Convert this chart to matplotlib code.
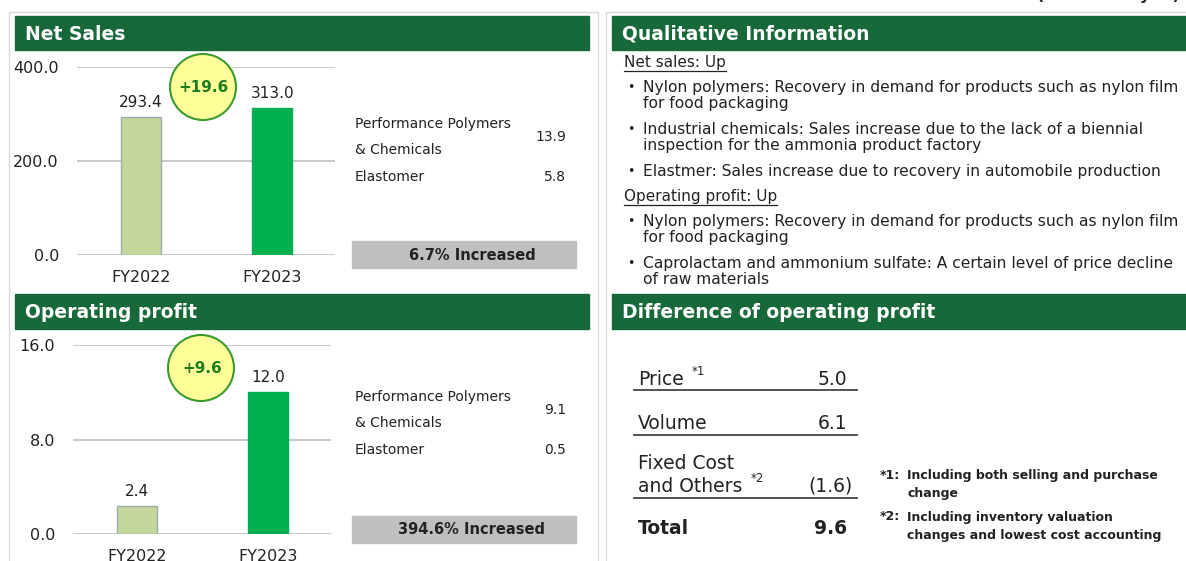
import matplotlib
matplotlib.use("Agg")
import matplotlib.pyplot as plt
from matplotlib.patches import Rectangle, Ellipse

# data
years = ["FY2022", "FY2023"]
net_sales = [293.4, 313.0]
op_profit = [2.4, 12.0]
segments = ["Performance Polymers\n& Chemicals", "Elastomer"]
sales_seg = [13.9, 5.8]
profit_seg = [9.1, 0.5]
sales_change = "6.7% Increased"
profit_change = "394.6% Increased"
diff_items = ["Price", "Volume", "Fixed Cost\nand Others"]
diff_marks = ["*1", "", "*2"]
diff_values = [5.0, 6.1, -1.6]
diff_total = 9.6
qual_sales = [
    "Nylon polymers: Recovery in demand for products such as nylon film\nfor food packaging",
    "Industrial chemicals: Sales increase due to the lack of a biennial\ninspection for the ammonia product factory",
    "Elastmer: Sales increase due to recovery in automobile production",
]
qual_profit = [
    "Nylon polymers: Recovery in demand for products such as nylon film\nfor food packaging",
    "Caprolactam and ammonium sulfate: A certain level of price decline\nof raw materials",
]
notes = [
    ("*1:", "Including both selling and purchase\nchange"),
    ("*2:", "Including inventory valuation\nchanges and lowest cost accounting"),
]

W, H = 1186, 561
GREEN = "#17693a"
TXT = "#222222"
plt.rcParams["font.family"] = ["DejaVu Sans"]

fig = plt.figure(figsize=(W / 100, H / 100), dpi=100)


def px_axes(x0, y_top, x1, y_bot):
    return fig.add_axes([x0 / W, 1 - y_bot / H, (x1 - x0) / W, (y_bot - y_top) / H])


def bar_chart(ax, values, ymax, step):
    xs = range(len(values))
    ax.bar(xs, values, width=0.31, color=["#c4d79b", "#00b050"],
           edgecolor=["#9aaeb0", "#00b050"], linewidth=1, zorder=3)
    for x, v in zip(xs, values):
        ax.annotate(f"{v:.1f}", (x, v), xytext=(0, 5), textcoords="offset points",
                    ha="center", va="bottom", fontsize=11, color=TXT)
    ax.set_xlim(-0.49, 1.48)
    ax.set_ylim(0, ymax)
    ticks = [0, step, 2 * step]
    ax.set_yticks(ticks)
    ax.set_yticklabels([f"{t:.1f}" for t in ticks])
    ax.set_xticks(list(xs))
    ax.set_xticklabels(years)
    ax.tick_params(length=0, labelsize=11.5, labelcolor=TXT)
    ax.tick_params(axis="y", pad=13)
    ax.tick_params(axis="x", pad=11)
    ax.grid(axis="y", color="#bfbfbf", linewidth=1.2, zorder=0)
    for s in ax.spines.values():
        s.set_visible(False)
    ax.set_facecolor("none")


ax1 = px_axes(77, 67, 335, 255)
bar_chart(ax1, net_sales, 400, 200)
ax2 = px_axes(73, 345, 331, 534)
bar_chart(ax2, op_profit, 16, 8)

ov = fig.add_axes([0, 0, 1, 1], zorder=5)
ov.set_xlim(0, W)
ov.set_ylim(H, 0)
ov.axis("off")
ov.patch.set_alpha(0)

# panel borders
ov.plot([9, 9, 598, 598], [H, 12, 12, H], color="#d9d9d9", lw=1)
ov.plot([606, 606, W], [H, 12, 12], color="#d9d9d9", lw=1)

# (Billions of yen) mostly cut off at the top
ov.text(1180, -5, "(Billions of yen)", ha="right", va="center", fontsize=11.5,
        fontweight="bold", color=TXT)

# headers
for x0, x1, y0, y1, label in [(15, 589, 16, 50, "Net Sales"),
                              (15, 589, 294, 329, "Operating profit"),
                              (612, W + 5, 16, 50, "Qualitative Information"),
                              (612, W + 5, 294, 329, "Difference of operating profit")]:
    ov.add_patch(Rectangle((x0, y0), x1 - x0, y1 - y0, color=GREEN))
    ov.text(x0 + 10, (y0 + y1) / 2 + 1, label, color="white", fontsize=13.5,
            fontweight="bold", va="center", ha="left")

# circles with increase
for cx, cy, vals in [(203, 87, net_sales), (201, 368, op_profit)]:
    ov.add_patch(Ellipse((cx, cy), 66, 66, facecolor="#ffff99", edgecolor="#3c9a2e", lw=1.5))
    ov.text(cx + 1, cy, f"+{vals[1] - vals[0]:.1f}", ha="center", va="center",
            fontsize=11, fontweight="bold", color="#1e7d1e")

# segment breakdowns and gray boxes
for y_pp, y_el, seg_vals, box_top, change in [(124, 177, sales_seg, 241, sales_change),
                                               (397, 450, profit_seg, 516, profit_change)]:
    line1, line2 = segments[0].split("\n")
    ov.text(355, y_pp, line1, fontsize=10, va="center", color=TXT)
    ov.text(355, y_pp + 26, line2, fontsize=10, va="center", color=TXT)
    ov.text(566, y_pp + 13, f"{seg_vals[0]:.1f}", fontsize=10, va="center", ha="right", color=TXT)
    ov.text(355, y_el, segments[1], fontsize=10, va="center", color=TXT)
    ov.text(566, y_el, f"{seg_vals[1]:.1f}", fontsize=10, va="center", ha="right", color=TXT)
    ov.add_patch(Rectangle((352, box_top), 224, 27, color="#bfbfbf"))
    ov.text(472, box_top + 14, change, ha="center", va="center", fontsize=10.5,
            fontweight="bold", color=TXT)

# qualitative information
renderer = fig.canvas.get_renderer()
y = 62
heads = []
for head, items in [("Net sales: Up", qual_sales), ("Operating profit: Up", qual_profit)]:
    heads.append((ov.text(624, y, head, fontsize=11, va="center", color=TXT), y))
    y += 25
    for item in items:
        lines = item.split("\n")
        ov.text(627, y, "\u2022", fontsize=9, va="center", color=TXT)
        for i, ln in enumerate(lines):
            ov.text(643, y + i * 16, ln, fontsize=11.2, va="center", color=TXT)
        y += 16 * (len(lines) - 1) + 26
    y -= 1
for t, ty in heads:
    bb = t.get_window_extent(renderer)
    ov.plot([624, 624 + bb.width], [ty + 9, ty + 9], color=TXT, lw=0.9)

# difference table
rows_y = [379, 423, 486]
line_y = [390, 435, 498]
for name, mark, val, ry, ly in zip(diff_items, diff_marks, diff_values, rows_y, line_y):
    parts = name.split("\n")
    last = None
    for i, p in enumerate(parts):
        last = ov.text(638, ry - (len(parts) - 1 - i) * 23, p, fontsize=13.5,
                       va="center", color=TXT)
    if mark:
        bb = last.get_window_extent(renderer)
        ov.text(638 + bb.width + 8, ry - 8, mark, fontsize=8.5, va="center", color=TXT)
    s = f"{val:.1f}" if val >= 0 else f"({abs(val):.1f})"
    ov.text(847 if val >= 0 else 853, ry, s, fontsize=13.5, va="center", ha="right", color=TXT)
    ov.plot([634, 857], [ly, ly], color="#444444", lw=1.3)
ov.text(638, 528, "Total", fontsize=13.5, fontweight="bold", va="center", color=TXT)
ov.text(847, 528, f"{diff_total:.1f}", fontsize=13.5, fontweight="bold", va="center",
        ha="right", color=TXT)

# footnotes
ny = 475
for mark, note in notes:
    l1, l2 = note.split("\n")
    ov.text(880, ny, mark, fontsize=9, fontweight="bold", va="center", color=TXT)
    ov.text(907, ny, l1, fontsize=9, fontweight="bold", va="center", color=TXT)
    ov.text(907, ny + 18, l2, fontsize=9, fontweight="bold", va="center", color=TXT)
    ny += 42

fig.savefig("out.png", dpi=100)
